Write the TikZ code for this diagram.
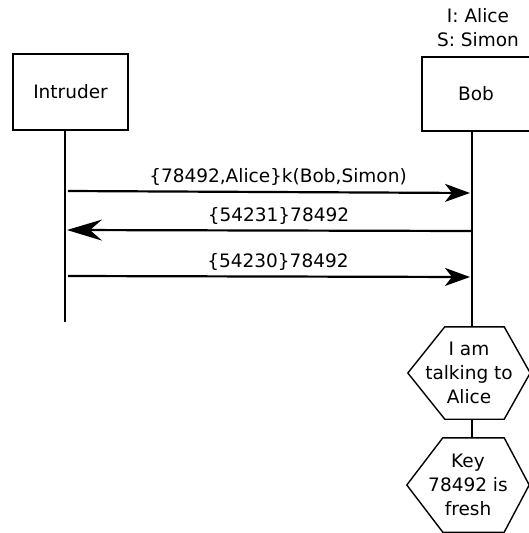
\documentclass[tikz,border=0pt]{standalone}
\usepackage{fontspec}
\setmainfont{DejaVu Sans}
\usetikzlibrary{arrows.meta}
\begin{document}
\begin{tikzpicture}[x=1pt,y=-1pt,
  every node/.style={font=\fontsize{18.5}{24}\selectfont},
  actor/.style={draw,line width=1.7pt,inner sep=0pt},
  lifeline/.style={line width=1.4pt},
  boblife/.style={line width=2.2pt},
  hexbox/.style={inner sep=0pt,align=center},
  hexline/.style={line width=1.4pt,line join=miter},
  msg/.style={line width=2.2pt,-{Stealth[length=25pt,width=18pt,inset=7pt]}},
  longmsg/.style={line width=2.2pt,-{Stealth[length=35pt,width=21pt,inset=12pt]}},
  msglabel/.style={above=5pt,inner sep=0pt,xshift=9pt}]
\useasboundingbox (0,0) rectangle (529,533);

% role assignment above Bob
\node[align=center,inner sep=0pt] (roles) at (478,28) {I: Alice\\S: Simon};

% actors
\node[actor,minimum width=115pt,minimum height=76pt] (intruder) at (70.5,92) {Intruder};
\node[actor,minimum width=108pt,minimum height=74pt] (bob) at (476,94) {Bob};

% lifeline end points
\coordinate (itop) at (65,130);
\coordinate (ibot) at (65,322);
\coordinate (btop) at (472,131);

% claims
\node[hexbox,minimum width=122pt,minimum height=92pt] (h1) at (469,373) {I am\\talking to\\Alice};
\node[hexbox,minimum width=122pt,minimum height=94pt] (h2) at (468,485) {Key\\78492 is\\fresh};
\draw[hexline] (h1.west) -- ([xshift=37pt]h1.north west) -- ([xshift=-26pt]h1.north east)
  -- (h1.east) -- ([xshift=-26pt]h1.south east) -- ([xshift=37pt]h1.south west) -- cycle;
\draw[hexline] (h2.west) -- ([xshift=36pt]h2.north west) -- ([xshift=-25pt]h2.north east)
  -- (h2.east) -- ([xshift=-25pt]h2.south east) -- ([xshift=36pt]h2.south west) -- cycle;

% lifelines
\draw[lifeline] (itop) -- (ibot);
\draw[boblife] (btop) -- (btop |- h1.north);
\draw[boblife] (btop |- h1.south) -- (btop |- h2.north);

% message end points
\coordinate (m1s) at (68,191);
\coordinate (m1e) at (470,193);
\coordinate (m2s) at (472,231);
\coordinate (m2e) at (67,230);
\coordinate (m3s) at (68,276);
\coordinate (m3e) at (470,277);

% messages
\draw[msg] (m1s) -- node[msglabel] (l1) {\{78492,Alice\}k(Bob,Simon)} (m1e);
\draw[longmsg] (m2s) -- node[msglabel] (l2) {\{54231\}78492} (m2e);
\draw[msg] (m3s) -- node[msglabel] (l3) {\{54230\}78492} (m3e);
\end{tikzpicture}
\end{document}
